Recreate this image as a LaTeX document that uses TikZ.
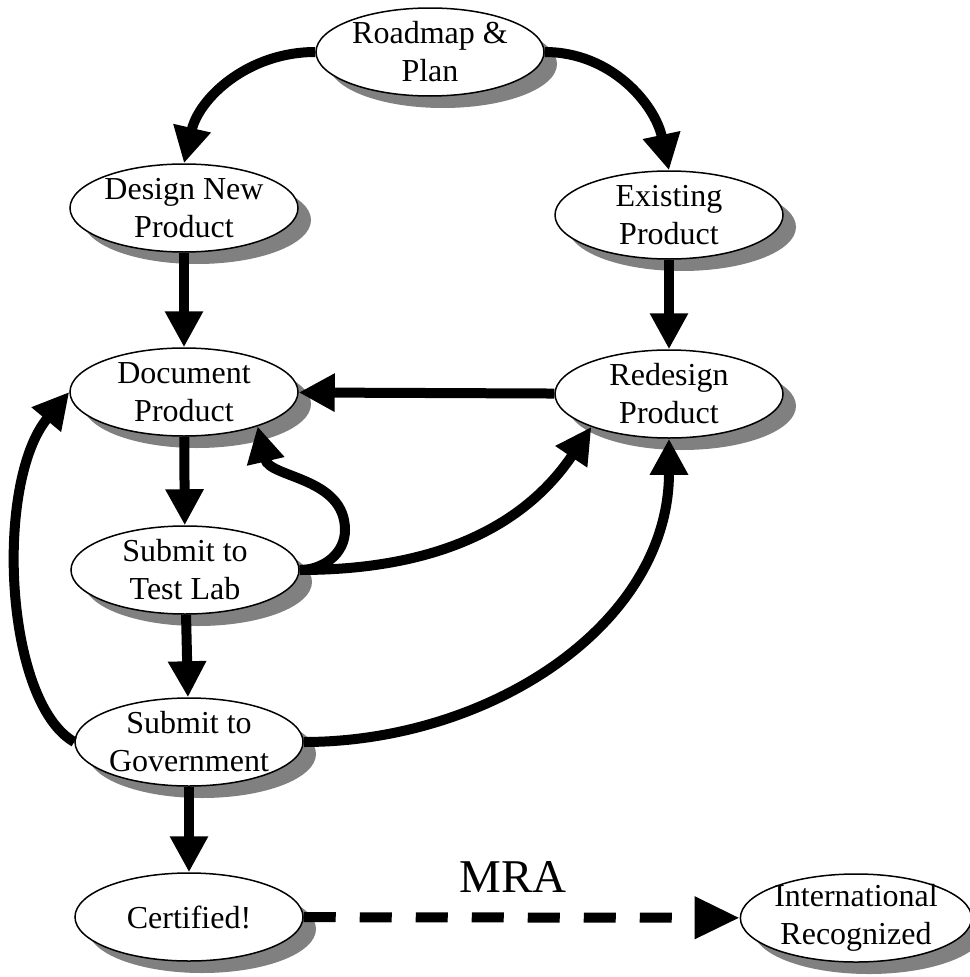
\documentclass[tikz,border=0pt]{standalone}
\usepackage{fontspec}
\setmainfont{Liberation Serif}
\usetikzlibrary{shapes.geometric, arrows.meta, shadows}

\begin{document}
\begin{tikzpicture}[x=1pt, y=1pt,
  stage/.style={ellipse, draw=black, line width=1.5pt, fill=white, minimum width=228pt, minimum height=88pt, inner xsep=0pt, inner ysep=-10pt, align=center, font=\fontsize{32}{38}\selectfont, drop shadow={shadow xshift=13pt, shadow yshift=-12pt, fill=gray, opacity=1}},
  arr/.style={-{Triangle[length=36pt, width=36pt]}, line width=10pt, draw=black}
]
\useasboundingbox (0,0) rectangle (969,-977);
\node[stage] (rm) at (430,-52) {Roadmap \&\\Plan};
\node[stage] (dn) at (184,-208) {Design New\\Product};
\node[stage] (ep) at (669,-215) {Existing\\Product};
\node[stage] (dp) at (184,-392) {Document\\Product};
\node[stage] (rp) at (669,-394) {Redesign\\Product};
\node[stage] (tl) at (185,-570) {Submit to\\Test Lab};
\node[stage] (gv) at (189,-742) {Submit to\\Government};
\node[stage] (ce) at (189,-917) {Certified!};
\node[stage] (ir) at (856,-918) {International\\Recognized};
\coordinate (lp) at (345,-530);
\draw[arr] (rm.west) to[out=180, in=77] (dn.north);
\draw[arr] (rm.east) to[out=0, in=102] (ep.north);
\draw[arr] (dn) -- (dp);
\draw[arr] (ep) -- (rp);
\draw[arr] (rp) -- (dp);
\draw[arr] (dp) -- (tl);
\draw[arr] (tl.east) to[out=0, in=-90] (lp) to[out=90, in=-77] (dp.-25);
\draw[arr] (tl.east) to[out=0, in=-124] (rp.203);
\draw[arr] (tl) -- (gv);
\draw[arr] (gv.west) .. controls +(-70,40) and +(-75,-90) .. (dp.west);
\draw[arr] (gv.east) to[out=0, in=-90] (rp.south);
\draw[arr] (gv) -- (ce);
\draw[arr, -{Triangle[length=45pt, width=40pt]}, dash pattern=on 32pt off 24pt] (ce) -- node[pos=0.48, above=20pt, inner sep=0pt, font=\fontsize{47}{50}\selectfont] {MRA} (ir);
\end{tikzpicture}
\end{document}
